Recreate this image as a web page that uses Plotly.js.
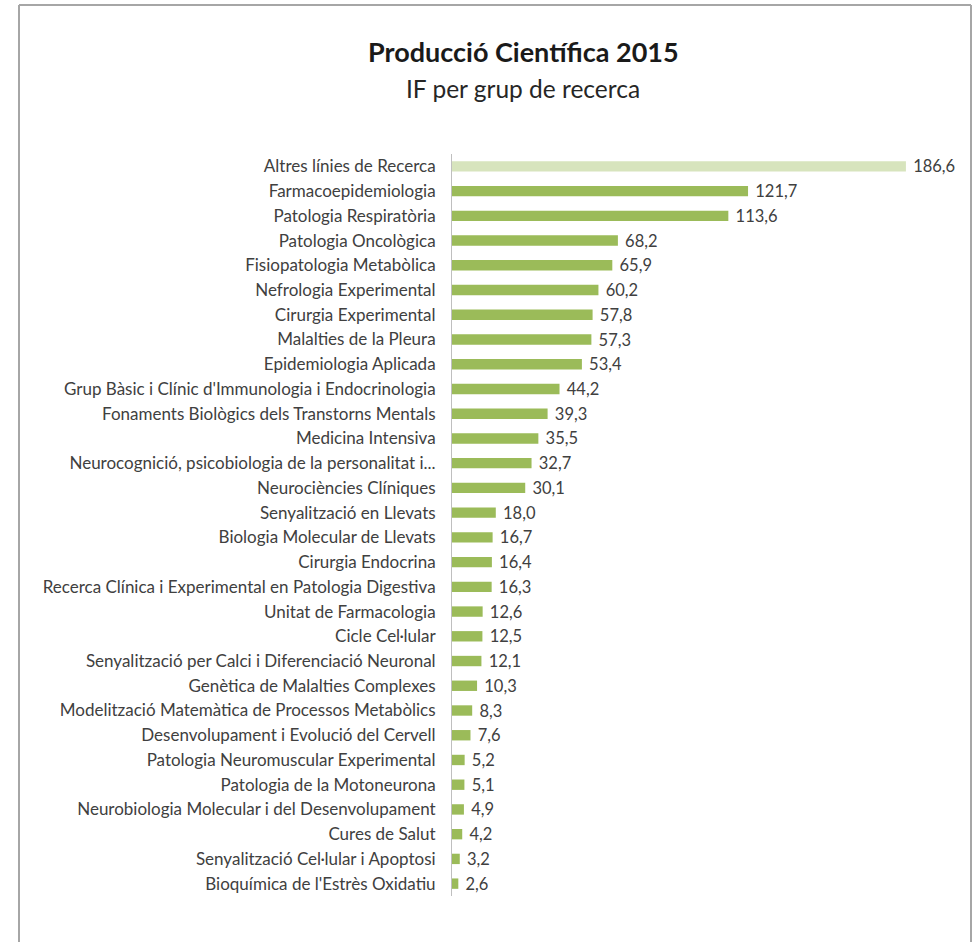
<!DOCTYPE html>
<html>
<head>
<meta charset="utf-8">
<script src="https://cdn.plot.ly/plotly-3.0.1.min.js"></script>
<style>html,body{margin:0;padding:0;background:#fff;}#chart{width:976px;height:942px;}</style>
</head>
<body>
<div id="chart"></div>
<script>
const categories = [
  "Altres línies de Recerca",
  "Farmacoepidemiologia",
  "Patologia Respiratòria",
  "Patologia Oncològica",
  "Fisiopatologia Metabòlica",
  "Nefrologia Experimental",
  "Cirurgia Experimental",
  "Malalties de la Pleura",
  "Epidemiologia Aplicada",
  "Grup Bàsic i Clínic d'Immunologia i Endocrinologia",
  "Fonaments Biològics dels Transtorns Mentals",
  "Medicina Intensiva",
  "Neurocognició, psicobiologia de la personalitat i...",
  "Neurociències Clíniques",
  "Senyalització en Llevats",
  "Biologia Molecular de Llevats",
  "Cirurgia Endocrina",
  "Recerca Clínica i Experimental en Patologia Digestiva",
  "Unitat de Farmacologia",
  "Cicle Cel·lular",
  "Senyalització per Calci i Diferenciació Neuronal",
  "Genètica de Malalties Complexes",
  "Modelització Matemàtica de Processos Metabòlics",
  "Desenvolupament i Evolució del Cervell",
  "Patologia Neuromuscular Experimental",
  "Patologia de la Motoneurona",
  "Neurobiologia Molecular i del Desenvolupament",
  "Cures de Salut",
  "Senyalització Cel·lular i Apoptosi",
  "Bioquímica de l'Estrès Oxidatiu"
];
const values = [186.6,121.7,113.6,68.2,65.9,60.2,57.8,57.3,53.4,44.2,39.3,35.5,32.7,30.1,18.0,16.7,16.4,16.3,12.6,12.5,12.1,10.3,8.3,7.6,5.2,5.1,4.9,4.2,3.2,2.6];
const titleText = "Producció Científica 2015";
const subtitleText = "IF per grup de recerca";
const highlightColor = "#D7E4BD";
const barColor = "#9BBB59";

const colors = categories.map((c, i) => i === 0 ? highlightColor : barColor);
const FONT = "Lato, 'Open Sans', sans-serif";

const trace = {
  type: "bar",
  orientation: "h",
  x: values,
  y: categories,
  marker: {color: colors, line: {width: 0}},
  text: values.map(v => v.toFixed(1).replace(".", ",")),
  texttemplate: " %{text}",
  textposition: "outside",
  cliponaxis: false,
  constraintext: "none",
  textfont: {family: FONT, size: 16.5, color: "#404040"},
  hoverinfo: "none"
};

const PW = 514, PH = 742, L = 452, T = 154;
const px = x => (x - L) / PW;
const py = y => 1 - (y - T) / PH;

const layout = {
  width: 976,
  height: 942,
  margin: {l: L, r: 10, t: T, b: 46},
  paper_bgcolor: "#ffffff",
  plot_bgcolor: "#ffffff",
  showlegend: false,
  bargap: 0.58,
  separators: ",.",
  font: {family: FONT, color: "#404040"},
  xaxis: {
    range: [0, 211.3],
    visible: false,
    showgrid: false,
    zeroline: false
  },
  yaxis: {
    autorange: "reversed",
    showgrid: false,
    zeroline: false,
    showline: true,
    linecolor: "#BFBFBF",
    linewidth: 1,
    ticks: "",
    ticklabelstandoff: 12,
    tickfont: {family: FONT, size: 17, color: "#404040"}
  },
  annotations: [
    {text: "<b>" + titleText + "</b>", xref: "paper", yref: "paper", x: px(523), y: py(52),
     xanchor: "center", yanchor: "middle", showarrow: false,
     font: {family: FONT, size: 27, color: "#1a1a1a"}},
    {text: subtitleText, xref: "paper", yref: "paper", x: px(523), y: py(88),
     xanchor: "center", yanchor: "middle", showarrow: false,
     font: {family: FONT, size: 24.5, color: "#262626"}}
  ],
  shapes: [
    {type: "line", xref: "paper", yref: "paper", x0: px(19), x1: px(19), y0: py(5), y1: py(960), line: {color: "#A6A6A6", width: 2}},
    {type: "line", xref: "paper", yref: "paper", x0: px(19), x1: px(971), y0: py(5), y1: py(5), line: {color: "#A6A6A6", width: 2}},
    {type: "line", xref: "paper", yref: "paper", x0: px(971), x1: px(971), y0: py(5), y1: py(960), line: {color: "#A6A6A6", width: 2}}
  ]
};

Plotly.newPlot("chart", [trace], layout, {displayModeBar: false, staticPlot: true});
</script>
</body>
</html>
